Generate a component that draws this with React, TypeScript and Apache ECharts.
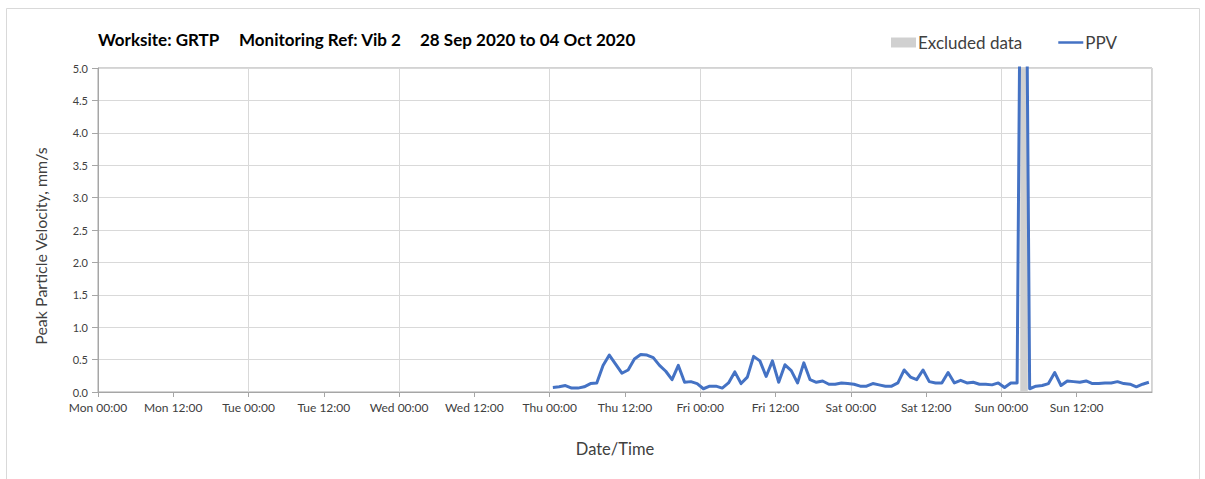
import React, { useEffect, useRef } from "react";
import * as echarts from "echarts";

const dayNames = ["Mon", "Tue", "Wed", "Thu", "Fri", "Sat", "Sun", "Mon"];
const titleParts = ["Worksite: GRTP", "Monitoring Ref: Vib 2", "28 Sep 2020 to 04 Oct 2020"];
const startHour = 72.5; // Thu 00:30, hourly readings (hours since Mon 00:00)
const ppv = [
  0.07, 0.08, 0.10, 0.06, 0.06, 0.08, 0.13, 0.14, 0.41, 0.57, 0.43, 0.29,
  0.34, 0.51, 0.58, 0.57, 0.53, 0.41, 0.32, 0.19, 0.41, 0.15, 0.16, 0.13,
  0.05, 0.09, 0.09, 0.06, 0.14, 0.31, 0.13, 0.23, 0.55, 0.48, 0.24, 0.48,
  0.15, 0.42, 0.33, 0.14, 0.45, 0.19, 0.15, 0.17, 0.12, 0.12, 0.14, 0.13,
  0.12, 0.09, 0.09, 0.13, 0.11, 0.09, 0.09, 0.14, 0.34, 0.23, 0.19, 0.34,
  0.16, 0.14, 0.14, 0.30, 0.14, 0.18, 0.14, 0.15, 0.12, 0.12, 0.11, 0.14,
  0.07, 0.14, 0.14, 13.0, 0.05, 0.09, 0.10, 0.13, 0.30, 0.10, 0.17, 0.16,
  0.15, 0.17, 0.13, 0.13, 0.14, 0.14, 0.16, 0.13, 0.12, 0.08, 0.12, 0.15,
];
const excluded = [147.0, 148.2];

const FONT = "Lato";

export default function App() {
  const ref = useRef<HTMLDivElement>(null);
  useEffect(() => {
    if (!ref.current) return;
    const chart = echarts.init(ref.current, null, { renderer: "svg" });
    const data = ppv.map((v, i) => [startHour + i, v]);
    const fmtX = (v: number) =>
      dayNames[Math.floor(v / 24)] + (v % 24 === 0 ? " 00:00" : " 12:00");
    chart.setOption({
      animation: false,
      backgroundColor: "#ffffff",
      textStyle: { fontFamily: FONT },
      title: [
        { text: titleParts[0], left: 93, top: 26 },
        { text: titleParts[1], left: 234, top: 26 },
        { text: titleParts[2], left: 415, top: 26 },
      ].map((t) => ({
        ...t,
        textStyle: { fontFamily: FONT, fontSize: 17, fontWeight: "bold", color: "#000" },
      })),
      legend: {
        left: 886,
        top: 29,
        itemWidth: 25,
        itemHeight: 10,
        itemGap: 36,
        textStyle: { fontFamily: FONT, fontSize: 17, color: "#404040", padding: [0, 0, 0, -3] },
        data: [
          { name: "Excluded data", icon: "rect" },
          { name: "PPV", icon: "path://M0 0 L30 0 L30 3 L0 3 Z" },
        ],
      },
      graphic: [
        {
          type: "rect",
          shape: { x: 6.5, y: 8.5, width: 1193, height: 480 },
          style: { fill: "none", stroke: "#d9d9d9", lineWidth: 1 },
          silent: true,
        },
      ],
      grid: {
        left: 98,
        right: 53,
        top: 68,
        bottom: 87,
        show: true,
        borderColor: "#a6a6a6",
        borderWidth: 1,
      },
      xAxis: [
        {
          type: "value",
          min: 0,
          max: 168,
          interval: 12,
          name: "Date/Time",
          nameLocation: "middle",
          nameGap: 48,
          nameTextStyle: {
            fontFamily: FONT,
            fontSize: 16.5,
            color: "#404040",
            padding: [0, 20, 0, 0],
          },
          axisLine: { show: true, lineStyle: { color: "#a6a6a6" } },
          axisTick: { show: true, length: 5, lineStyle: { color: "#a6a6a6" } },
          axisLabel: {
            formatter: fmtX,
            showMaxLabel: false,
            fontFamily: FONT,
            fontSize: 12,
            color: "#404040",
            margin: 9,
          },
          splitLine: { show: false },
        },
        {
          type: "value",
          min: 0,
          max: 168,
          interval: 24,
          position: "bottom",
          axisLine: { show: false },
          axisTick: { show: false },
          axisLabel: { show: false },
          splitLine: { show: true, lineStyle: { color: "#d9d9d9" } },
        },
      ],
      yAxis: {
        type: "value",
        min: 0,
        max: 5,
        interval: 0.5,
        name: "Peak Particle Velocity, mm/s",
        nameLocation: "middle",
        nameGap: 50,
        nameTextStyle: {
          fontFamily: FONT,
          fontSize: 16,
          color: "#404040",
          padding: [0, 32, 0, 0],
        },
        axisLine: { show: true, lineStyle: { color: "#a6a6a6" } },
        axisTick: { show: true, length: 6, lineStyle: { color: "#a6a6a6" } },
        axisLabel: {
          formatter: (v: number) => v.toFixed(1),
          fontFamily: FONT,
          fontSize: 11,
          color: "#404040",
          margin: 10,
        },
        splitLine: { show: true, lineStyle: { color: "#d9d9d9" } },
      },
      series: [
        {
          name: "Excluded data",
          type: "line",
          color: "#d0d0d0",
          data: [],
          markArea: {
            silent: true,
            itemStyle: { color: "#d0d0d0" },
            data: [[{ xAxis: excluded[0] }, { xAxis: excluded[1] }]],
          },
        },
        {
          name: "PPV",
          type: "line",
          color: "#4472c4",
          data,
          showSymbol: false,
          symbol: "none",
          clip: true,
          lineStyle: { width: 3, color: "#4472c4", join: "round" },
        },
      ],
    });
    return () => chart.dispose();
  }, []);
  return (
    <div
      ref={ref}
      style={{ position: "fixed", left: 0, top: 0, width: 1205, height: 479 }}
    />
  );
}
